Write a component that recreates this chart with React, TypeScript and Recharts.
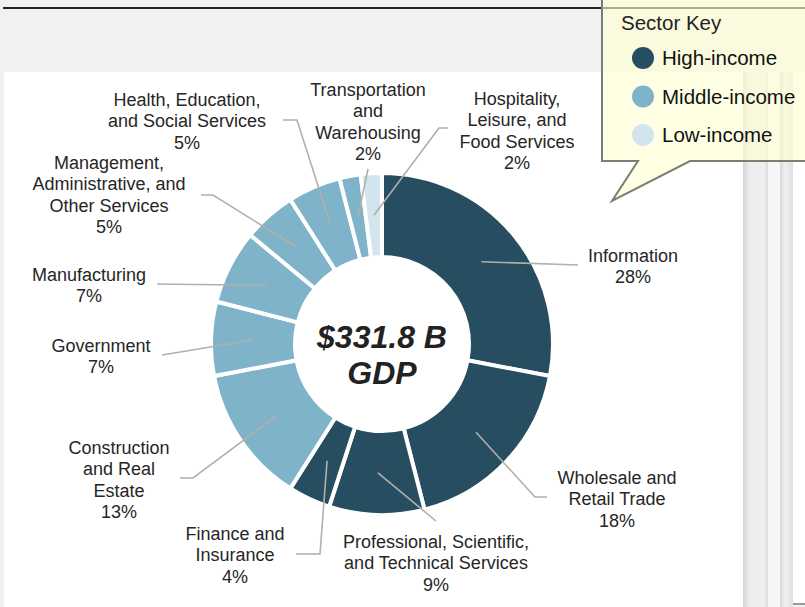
import { Cell, Label, Pie, PieChart } from 'recharts';

// GDP share by sector (percent), clockwise from 12 o'clock
const sectorNames = [
  'Information',
  'Wholesale and\nRetail Trade',
  'Professional, Scientific,\nand Technical Services',
  'Finance and\nInsurance',
  'Construction\nand Real\nEstate',
  'Government',
  'Manufacturing',
  'Management,\nAdministrative, and\nOther Services',
  'Health, Education,\nand Social Services',
  'Transportation\nand\nWarehousing',
  'Hospitality,\nLeisure, and\nFood Services',
];
const sectorShares = [28, 18, 9, 4, 13, 7, 7, 5, 5, 2, 2];
const sectorGroups = ['high', 'high', 'high', 'high', 'mid', 'mid', 'mid', 'mid', 'mid', 'mid', 'low'];

const keyGroups = ['high', 'mid', 'low'];
const keyLabels = ['High-income', 'Middle-income', 'Low-income'];

const totalLabel = '$331.8 B';
const totalSub = 'GDP';

const groupColor: Record<string, string> = {
  high: '#264e60',
  mid: '#7fb3ca',
  low: '#d2e5ee',
};

const data = sectorNames.map((name, i) => ({
  name,
  value: sectorShares[i],
  group: sectorGroups[i],
}));

// label placement relative to the pie centre: text anchor + leader line bends
const labelLayout: { text: [number, number]; path: [number, number][] }[] = [
  { text: [251, -89], path: [[196, -79]] },
  { text: [235, 133], path: [[153, 153], [165, 153]] },
  { text: [54, 197], path: [[54, 177]] },
  { text: [-147, 189], path: [[-62, 210], [-86, 210]] },
  { text: [-263, 103], path: [[-189, 134], [-202, 134]] },
  { text: [-281, 1], path: [[-220, 11]] },
  { text: [-293, -70], path: [[-225, -60]] },
  { text: [-273, -182], path: [[-169, -149], [-181, -149]] },
  { text: [-195, -245], path: [[-85, -224], [-99, -224]] },
  { text: [-14, -255], path: [[-14, -175]] },
  { text: [135, -246], path: [[57, -216], [66, -216]] },
];

const FONT = '"Liberation Sans", Arial, sans-serif';
const INNER = 87;
const OUTER = 171;
const RAD = Math.PI / 180;

function SectorLabel(props: any) {
  const { cx, cy, midAngle, index, name, value } = props;
  const lay = labelLayout[index];
  const r = (INNER + OUTER) / 2;
  const sx = cx + r * Math.cos(-midAngle * RAD);
  const sy = cy + r * Math.sin(-midAngle * RAD);
  const pts = [[sx, sy], ...lay.path.map(([dx, dy]) => [cx + dx, cy + dy])];
  const lines = String(name).split('\n').concat(`${value}%`);
  const tx = cx + lay.text[0];
  const ty = cy + lay.text[1] + 6.5;
  return (
    <g>
      <polyline
        points={pts.map((p) => p.join(',')).join(' ')}
        fill="none"
        stroke="#b3afa9"
        strokeWidth={1.6}
      />
      <text x={tx} y={ty} textAnchor="middle" fontFamily={FONT} fontSize={18} fill="#262626">
        {lines.map((ln, i) => (
          <tspan key={i} x={tx} dy={i === 0 ? 0 : 21.5}>
            {ln}
          </tspan>
        ))}
      </text>
    </g>
  );
}

function CenterText(props: any) {
  const vb = props.viewBox || {};
  const cx = vb.cx ?? 382;
  const cy = vb.cy ?? 344;
  return (
    <text
      x={cx}
      textAnchor="middle"
      fontFamily={FONT}
      fontSize={32}
      fontWeight="bold"
      fontStyle="italic"
      fill="#222"
    >
      <tspan x={cx} y={cy + 4}>
        {totalLabel}
      </tspan>
      <tspan x={cx} y={cy + 40}>
        {totalSub}
      </tspan>
    </text>
  );
}

export default function App() {
  return (
    <div
      style={{
        position: 'absolute',
        left: 0,
        top: 0,
        width: 805,
        height: 607,
        overflow: 'hidden',
        background: '#f1f1f1',
        fontFamily: FONT,
      }}
    >
      {/* top rule */}
      <div style={{ position: 'absolute', left: 3, top: 7, width: 802, height: 2, background: '#222' }} />
      {/* white card */}
      <div style={{ position: 'absolute', left: 4, top: 72, width: 739, height: 540, background: '#fff' }} />
      {/* right-hand panel edges */}
      <div
        style={{
          position: 'absolute',
          left: 743,
          top: 72,
          width: 25,
          height: 540,
          background: 'linear-gradient(to right, #d4d4d4, #ececec 25%, #efefef 85%, #dcdcdc)',
        }}
      />
      <div style={{ position: 'absolute', left: 768, top: 72, width: 12, height: 540, background: '#f6f6f6' }} />
      <div
        style={{
          position: 'absolute',
          left: 780,
          top: 72,
          width: 13,
          height: 540,
          background: 'linear-gradient(to right, #d8d8d8, #efefef 40%, #e0e0e0)',
        }}
      />
      <div
        style={{
          position: 'absolute',
          left: 793,
          top: 72,
          width: 12,
          height: 531,
          background: '#fff',
          borderBottom: '2px solid #9a9a9a',
        }}
      />

      <div style={{ position: 'absolute', left: 0, top: 0 }}>
        <PieChart width={805} height={607} margin={{ top: 0, right: 0, bottom: 0, left: 0 }}>
          <Pie
            data={data}
            dataKey="value"
            nameKey="name"
            cx={382}
            cy={344}
            innerRadius={INNER}
            outerRadius={OUTER}
            startAngle={90}
            endAngle={-270}
            stroke="#fff"
            strokeWidth={4}
            label={SectorLabel}
            labelLine={false}
            isAnimationActive={false}
          >
            {data.map((d, i) => (
              <Cell key={i} fill={groupColor[d.group]} />
            ))}
            <Label position="center" content={CenterText} />
          </Pie>
        </PieChart>
      </div>

      {/* Sector key callout */}
      <svg width={805} height={607} style={{ position: 'absolute', left: 0, top: 0 }}>
        <path
          d="M602,-5 L820,-5 L820,161 L690,161 L612,201 L638,161 L602,161 Z"
          fill="rgba(255,255,212,0.62)"
          stroke="#7d7d70"
          strokeWidth={2}
        />
        <text x={621} y={30} fontFamily={FONT} fontSize={20.5} fill="#222">
          Sector Key
        </text>
        {keyGroups.map((g, i) => (
          <g key={g}>
            <circle cx={643} cy={58 + i * 38.5} r={11} fill={groupColor[g]} />
            <text x={662} y={65 + i * 38.5} fontFamily={FONT} fontSize={20.5} fill="#111">
              {keyLabels[i]}
            </text>
          </g>
        ))}
      </svg>
    </div>
  );
}
